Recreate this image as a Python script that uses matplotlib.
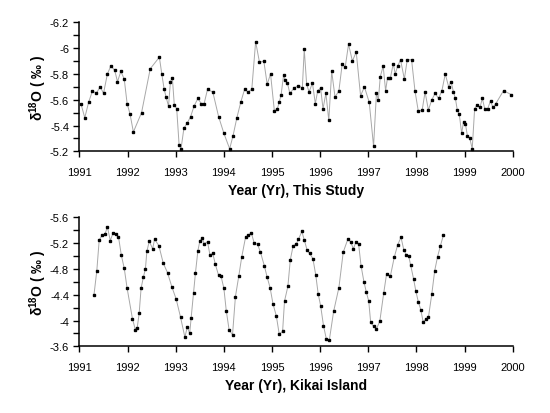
import matplotlib
matplotlib.use("Agg")
import matplotlib.pyplot as plt
from matplotlib.ticker import MultipleLocator, FormatStrFormatter

plt.rcParams['font.family'] = ['Liberation Sans', 'DejaVu Sans']
plt.rcParams['axes.unicode_minus'] = False
plt.rcParams['mathtext.fontset'] = 'custom'
plt.rcParams['mathtext.rm'] = 'Liberation Sans'
plt.rcParams['mathtext.bf'] = 'Liberation Sans:bold'

# ---- Data: This Study ----
study_years = [1991.03, 1991.11, 1991.19, 1991.27, 1991.35, 1991.43, 1991.50, 1991.58, 1991.65, 1991.73,
               1991.79, 1991.86, 1991.93, 1991.99, 1992.05, 1992.12, 1992.29, 1992.47, 1992.66, 1992.71,
               1992.76, 1992.80, 1992.85, 1992.89, 1992.93, 1992.97, 1993.02, 1993.07, 1993.11, 1993.17,
               1993.24, 1993.31, 1993.38, 1993.46, 1993.53, 1993.59, 1993.66, 1993.77, 1993.89, 1994.00,
               1994.12, 1994.19, 1994.27, 1994.35, 1994.43, 1994.50, 1994.58, 1994.66, 1994.74, 1994.83,
               1994.90, 1994.97, 1995.05, 1995.11, 1995.15, 1995.19, 1995.24, 1995.28, 1995.32, 1995.37,
               1995.46, 1995.55, 1995.63, 1995.67, 1995.72, 1995.77, 1995.84, 1995.90, 1995.95, 1996.01,
               1996.06, 1996.12, 1996.18, 1996.24, 1996.31, 1996.39, 1996.46, 1996.52, 1996.59, 1996.67,
               1996.75, 1996.84, 1996.92, 1997.02, 1997.11, 1997.17, 1997.21, 1997.25, 1997.31, 1997.36,
               1997.40, 1997.46, 1997.52, 1997.56, 1997.61, 1997.67, 1997.75, 1997.81, 1997.90, 1997.97,
               1998.04, 1998.12, 1998.18, 1998.25, 1998.32, 1998.39, 1998.46, 1998.53, 1998.60, 1998.67,
               1998.72, 1998.77, 1998.81, 1998.85, 1998.89, 1998.94, 1998.98, 1999.02, 1999.06, 1999.11,
               1999.16, 1999.21, 1999.26, 1999.32, 1999.37, 1999.42, 1999.48, 1999.54, 1999.59, 1999.65,
               1999.81, 1999.97]
study_d18o = [-5.57, -5.46, -5.58, -5.67, -5.65, -5.70, -5.65, -5.80, -5.86, -5.83,
              -5.74, -5.82, -5.76, -5.57, -5.49, -5.35, -5.50, -5.84, -5.93, -5.80,
              -5.68, -5.62, -5.55, -5.74, -5.77, -5.56, -5.53, -5.25, -5.22, -5.38,
              -5.42, -5.47, -5.55, -5.61, -5.57, -5.57, -5.68, -5.66, -5.47, -5.34,
              -5.22, -5.32, -5.46, -5.58, -5.68, -5.66, -5.68, -6.05, -5.89, -5.90,
              -5.72, -5.80, -5.51, -5.53, -5.58, -5.64, -5.79, -5.75, -5.73, -5.65,
              -5.69, -5.71, -5.69, -5.99, -5.72, -5.66, -5.73, -5.57, -5.67, -5.69,
              -5.53, -5.65, -5.44, -5.82, -5.62, -5.67, -5.88, -5.85, -6.03, -5.90,
              -5.97, -5.63, -5.70, -5.58, -5.24, -5.65, -5.60, -5.78, -5.86, -5.67,
              -5.77, -5.77, -5.88, -5.80, -5.86, -5.91, -5.76, -5.91, -5.91, -5.67,
              -5.51, -5.52, -5.66, -5.52, -5.60, -5.65, -5.61, -5.67, -5.80, -5.70,
              -5.74, -5.66, -5.61, -5.52, -5.49, -5.34, -5.43, -5.41, -5.32, -5.30,
              -5.22, -5.53, -5.56, -5.54, -5.61, -5.53, -5.53, -5.59, -5.54, -5.57,
              -5.67, -5.64]

# ---- Data: Kikai Island ----
kikai_years = [1991.30, 1991.36, 1991.41, 1991.47, 1991.53, 1991.58, 1991.64, 1991.70, 1991.76, 1991.81,
               1991.87, 1991.93, 1991.99, 1992.10, 1992.16, 1992.20, 1992.24, 1992.28, 1992.33, 1992.37,
               1992.40, 1992.45, 1992.52, 1992.56, 1992.65, 1992.74, 1992.83, 1992.92, 1993.01, 1993.10,
               1993.19, 1993.24, 1993.29, 1993.32, 1993.37, 1993.41, 1993.46, 1993.50, 1993.55, 1993.59,
               1993.66, 1993.71, 1993.77, 1993.82, 1993.89, 1993.94, 1994.00, 1994.05, 1994.11, 1994.18,
               1994.24, 1994.31, 1994.37, 1994.45, 1994.51, 1994.57, 1994.63, 1994.70, 1994.76, 1994.84,
               1994.90, 1994.96, 1995.02, 1995.09, 1995.15, 1995.22, 1995.26, 1995.33, 1995.38, 1995.44,
               1995.50, 1995.55, 1995.62, 1995.67, 1995.73, 1995.78, 1995.85, 1995.91, 1995.96, 1996.01,
               1996.07, 1996.13, 1996.19, 1996.28, 1996.39, 1996.48, 1996.58, 1996.64, 1996.69, 1996.74,
               1996.80, 1996.85, 1996.91, 1996.96, 1997.01, 1997.05, 1997.11, 1997.17, 1997.24, 1997.32,
               1997.38, 1997.46, 1997.54, 1997.61, 1997.68, 1997.74, 1997.79, 1997.84, 1997.88, 1997.94,
               1997.99, 1998.04, 1998.09, 1998.14, 1998.20, 1998.25, 1998.32, 1998.38, 1998.44, 1998.50,
               1998.56]
kikai_d18o = [-4.39, -4.77, -5.25, -5.32, -5.34, -5.45, -5.24, -5.36, -5.34, -5.30,
              -5.01, -4.81, -4.50, -4.03, -3.86, -3.89, -4.11, -4.50, -4.68, -4.80,
              -5.07, -5.23, -5.11, -5.26, -5.16, -4.89, -4.74, -4.52, -4.33, -4.05,
              -3.74, -3.90, -3.80, -4.04, -4.43, -4.74, -5.08, -5.23, -5.28, -5.19,
              -5.22, -5.02, -5.04, -4.88, -4.70, -4.69, -4.50, -4.15, -3.85, -3.78,
              -4.37, -4.69, -4.98, -5.29, -5.32, -5.36, -5.20, -5.18, -5.06, -4.85,
              -4.67, -4.51, -4.26, -4.07, -3.79, -3.83, -4.30, -4.53, -4.94, -5.16,
              -5.18, -5.26, -5.38, -5.25, -5.09, -5.04, -4.96, -4.70, -4.41, -4.23,
              -3.92, -3.71, -3.69, -4.14, -4.51, -5.06, -5.27, -5.21, -5.11, -5.21,
              -5.18, -4.85, -4.60, -4.44, -4.30, -3.97, -3.91, -3.87, -3.99, -4.42,
              -4.72, -4.69, -4.98, -5.17, -5.29, -5.09, -5.02, -5.00, -4.86, -4.65,
              -4.45, -4.29, -4.17, -3.98, -4.02, -4.05, -4.41, -4.77, -4.99, -5.16,
              -5.32]

year_ticks = [1991, 1992, 1993, 1994, 1995, 1996, 1997, 1998, 1999, 2000]
xlabels = ["Year (Yr), This Study", "Year (Yr), Kikai Island"]
ylabel = r'$\mathregular{\delta}^{\mathbf{18}}$O ( ‰ )'

fig = plt.figure(figsize=(5.5, 4.14), dpi=100)
ax1 = fig.add_axes([0.1445, 0.6320, 0.7876, 0.3117])
ax2 = fig.add_axes([0.1445, 0.1611, 0.7876, 0.3116])

panels = [
    (ax1, study_years, study_d18o, (-5.2, -6.2), 0.2, 0.1, xlabels[0]),
    (ax2, kikai_years, kikai_d18o, (-3.6, -5.6), 0.4, 0.2, xlabels[1]),
]

for ax, xs, ys, ylim, major, minor, xl in panels:
    ax.plot(xs, ys, color='#a8a8a8', lw=0.7, zorder=1)
    ax.plot(xs, ys, ls='none', marker='s', ms=1.8, mfc='black', mec='black', zorder=2)
    ax.set_xlim(1991, 2000)
    ax.set_ylim(*ylim)
    ax.set_xticks(year_ticks)
    ax.yaxis.set_major_locator(MultipleLocator(major))
    ax.yaxis.set_minor_locator(MultipleLocator(minor))
    ax.yaxis.set_major_formatter(FormatStrFormatter('%g'))
    for s in ['top', 'right']:
        ax.spines[s].set_visible(False)
    for s in ['left', 'bottom']:
        ax.spines[s].set_linewidth(1.1)
    ax.tick_params(which='both', direction='out', length=4.5, width=1.0, labelsize=8)
    ax.tick_params(axis='x', which='major', pad=6.5)
    ax.tick_params(axis='y', which='major', pad=3)
    ax.tick_params(axis='x', which='minor', length=0)
    ax.set_xlabel(xl, fontsize=10, fontweight='bold', labelpad=4.8)
    ax.set_ylabel(ylabel, fontsize=10, fontweight='bold', labelpad=0.5)

fig.savefig('out.png', dpi=100)
